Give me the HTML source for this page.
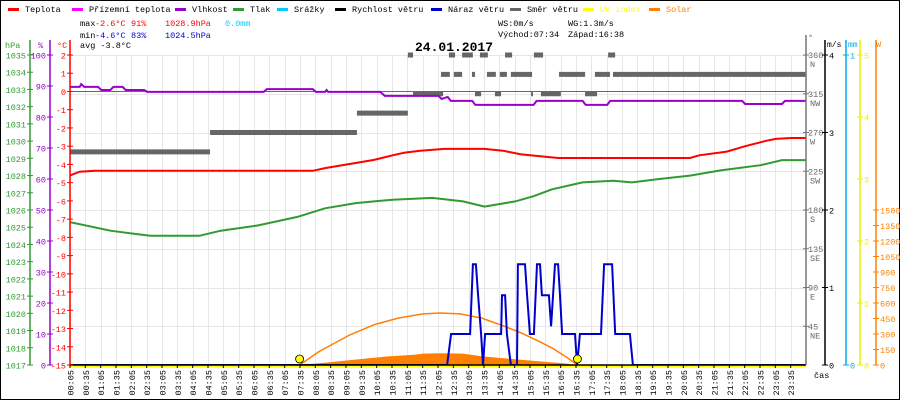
<!DOCTYPE html>
<html><head><meta charset="utf-8"><style>
html,body{margin:0;padding:0;background:#fff}
svg{display:block;font-family:"Liberation Mono",monospace}
</style></head><body>
<svg id="c" width="900" height="400" viewBox="0 0 900 400"></svg>
<script>
// ---- data ----
const tempTimes=[0.08,0.4,0.9,4,8,8.4,9.3,10,10.6,11,11.5,12.3,13.6,14.2,14.8,16,18,20.3,20.6,21.5,22.1,22.8,23.1,23.6,24.08];
const tempValues=[-4.6,-4.4,-4.35,-4.35,-4.35,-4.2,-3.95,-3.75,-3.5,-3.35,-3.25,-3.15,-3.15,-3.25,-3.45,-3.65,-3.65,-3.65,-3.5,-3.3,-3.0,-2.7,-2.6,-2.55,-2.55];
const apparentTimes=[0.08,24.08];
const apparentValues=[0,0];
const humTimes=[0.08,0.4,0.45,0.55,1.0,1.1,1.4,1.5,1.8,1.9,2.5,2.6,6.4,6.5,8.0,8.1,8.4,8.45,8.5,8.6,10.2,10.35,11.2,12.1,12.2,12.4,12.5,13.2,13.3,15.2,15.3,16.8,16.9,17.6,17.7,22.0,22.1,23.3,23.4,24.08];
const humValues=[89.7,89.7,90.6,89.7,89.7,88.7,88.7,89.7,89.7,88.7,88.7,88.1,88.1,89,89,88.1,88.1,88.7,88.1,88.1,88.1,86.8,86.8,86.8,85.8,86.5,85.2,85.2,83.9,83.9,85.2,85.2,83.9,83.9,85.2,85.2,84.2,84.2,85.2,85.2];
const presTimes=[0.08,1.4,2.7,4.3,5.0,6.2,7.5,8.4,9.4,10.6,11.9,12.9,13.6,14.6,15.2,15.8,16.8,17.8,18.4,19.3,20.3,21.3,22.6,23.3,24.08];
const presValues=[1025.3,1024.8,1024.5,1024.5,1024.8,1025.1,1025.6,1026.1,1026.4,1026.6,1026.7,1026.5,1026.2,1026.5,1026.8,1027.2,1027.6,1027.7,1027.6,1027.8,1028.0,1028.3,1028.6,1028.9,1028.9];
const gustTimes=[0.08,12.38,12.51,13.13,13.22,13.32,13.39,13.49,13.55,13.62,14.14,14.17,14.27,14.33,14.46,14.66,14.69,14.92,14.99,15.08,15.21,15.31,15.41,15.47,15.70,15.77,15.90,16.00,16.06,16.13,16.55,16.62,16.71,17.40,17.50,17.76,17.86,18.34,18.44,24.08];
const gustValues=[0,0,0.4,0.4,1.3,1.3,0.9,0.4,0,0.4,0.4,0.9,0.9,0.4,0,0,1.3,1.3,0.9,0.4,0.4,1.3,1.3,0.9,0.9,0.5,1.3,1.3,0.9,0.4,0.4,0,0.4,0.4,1.3,1.3,0.4,0.4,0,0];
const dirStart=[0.08,4.65,9.44,11.27,13.29,13.94,15.12,15.44,16.88,11.10,12.44,12.87,13.45,14.27,15.21,17.63,12.18,12.60,13.19,13.68,14.10,14.46,16.03,17.20,17.79];
const dirEnd=[4.65,9.44,11.10,12.25,13.49,14.14,15.18,16.09,17.27,11.27,12.64,13.22,13.71,14.50,15.51,17.86,12.47,12.87,13.29,13.97,14.33,15.15,16.88,17.69,24.08];
const dirValue=[247.5,270,292.5,315,315,315,315,315,315,360,360,360,360,360,360,360,337.5,337.5,337.5,337.5,337.5,337.5,337.5,337.5,337.5];
const solarTheoTimes=[7.57,8.2,9.2,10.0,10.8,11.6,12.15,12.8,13.5,14.2,14.8,15.3,15.8,16.3,16.63];
const solarTheoValues=[0,130,290,390,455,495,503,495,455,380,310,240,165,70,0];
const solarTimes=[7.57,8.5,9.5,10.5,11.3,11.6,12.2,12.9,13.5,14.6,15.6,16.2,16.63];
const solarValues=[0,25,55,85,100,110,113,110,85,55,30,15,0];
const sunTimes=[7.57,16.63];
const timeLabels=[];for(let h=0;h<24;h++){timeLabels.push(String(h).padStart(2,'0')+':05');timeLabels.push(String(h).padStart(2,'0')+':35');}

// ---- scales ----
const X0=70,X1=806,YT=55,YB=365;
const xs=h=>X0+(h-5/60)*(X1-X0)/24;
const yT=v=>YT+(2-v)*(YB-YT)/17;
const yH=v=>YB-v*(YB-YT)/100;
const yP=v=>YB-(v-1017)*(YB-YT)/18;
const yW=v=>YB-v*(YB-YT)/4;
const yD=v=>YB-v*(YB-YT)/360;
const yS=v=>YB-v*(210-YB)/-1500;

const svg=document.getElementById('c');const NS='http://www.w3.org/2000/svg';
function mk(tag,at,parent){const e=document.createElementNS(NS,tag);for(const k in at)e.setAttribute(k,at[k]);(parent||svg).appendChild(e);return e;}
function txt(x,y,s,fill,anchor,size,weight){const e=mk('text',{x:x,y:y,fill:fill||'#000','font-size':size||8.5,'text-anchor':anchor||'start'});if(weight)e.setAttribute('font-weight',weight);e.textContent=s;return e;}

// border
let b=mk('rect',{x:0.5,y:0.5,width:899,height:399,fill:'none',stroke:'#000'});



// grid
const grid=mk('g',{stroke:'#e6e6e6','stroke-width':1});


timeLabels.forEach((l,i)=>{const x=Math.round(xs(i*0.5+5/60))+0.5;mk('line',{x1:x,y1:YT,x2:x,y2:YB},grid);});
for(let d=45;d<=360;d+=45){const y=Math.round(yD(d))+0.5;mk('line',{x1:X0,y1:y,x2:X1,y2:y},grid);}

function poly(times,vals,ys,color,w,name){const p=mk('polyline',{points:times.map((t,i)=>xs(t).toFixed(1)+','+ys(vals[i]).toFixed(1)).join(' '),fill:'none',stroke:color,'stroke-width':w});return p;}

// solar fill
let sp=mk('polygon',{points:solarTimes.map((t,i)=>xs(t).toFixed(1)+','+yS(solarValues[i]).toFixed(1)).join(' '),fill:'#ff8000'});


poly(solarTheoTimes,solarTheoValues,yS,'#ff8000',1.5,'solar-theoretical-line');

// direction bars
const dg=mk('g',{fill:'#666'});


dirValue.forEach((v,i)=>{const r=mk('rect',{x:xs(dirStart[i]),y:yD(v)-2.5,width:Math.max(1,xs(dirEnd[i])-xs(dirStart[i])),height:5},dg);});

poly(presTimes,presValues,yP,'#339933',2,'pressure-line');
poly(tempTimes,tempValues,yT,'#ff0000',2,'temperature-line');
poly(apparentTimes,apparentValues,yT,'#ff00ff',1,'apparent-temperature-line');
poly(humTimes,humValues,yH,'#9900cc',2,'humidity-line');
poly(gustTimes,gustValues,yW,'#0000cc',2,'wind-gust-line');

// baseline
let yl=mk('line',{x1:X0,y1:YB+1.5,x2:X1,y2:YB+1.5,stroke:'#ffff00','stroke-width':2});


mk('line',{x1:X0,y1:YB,x2:X1,y2:YB,stroke:'#000','stroke-width':1.5});
sunTimes.forEach(t=>{const c=mk('circle',{cx:xs(t),cy:YB-6,r:4,fill:'#ffff00',stroke:'#000','stroke-width':0.8});});

// axes
function axis(x,color,ticks,ys,labels,name,dx){const g=mk('g',{});mk('line',{x1:x,y1:YT-15,x2:x,y2:YB,stroke:color,'stroke-width':1.5},g);ticks.forEach((v,i)=>{const y=ys(v);mk('line',{x1:x-3,y1:y,x2:x+3,y2:y,stroke:color},g);const t=txt(dx<0?x-4:x+4,y+3.5,labels[i],color,dx<0?'end':'start');g.appendChild(t);});return g;}
const pt=[],pl=[];for(let p=1017;p<=1035;p++){pt.push(p);pl.push(''+p);}
axis(30,'#339933',pt,yP,pl,'pressure-axis',-1);
const ht=[],hl=[];for(let h=0;h<=100;h+=10){ht.push(h);hl.push(''+h);}
axis(50,'#9900cc',ht,yH,hl,'humidity-axis',-1);
const tt=[],tl=[];for(let t=-15;t<=2;t++){tt.push(t);tl.push(''+t);}
axis(70,'#ff0000',tt,yT,tl,'temperature-axis',-1);
txt(5,48,'hPa','#339933');txt(38,48,'%','#9900cc');txt(57,48,'°C','#ff0000');
// direction axis
const dgA=mk('g',{});
mk('line',{x1:X1,y1:YT-20,x2:X1,y2:YB,stroke:'#777','stroke-width':1.5},dgA);
const dn=['','NE','E','SE','S','SW','W','NW','N'];
for(let i=1;i<=8;i++){const y=yD(i*45);mk('line',{x1:X1-3,y1:y,x2:X1+3,y2:y,stroke:'#777'},dgA);dgA.appendChild(txt(X1+2,y+3,''+i*45,'#666'));dgA.appendChild(txt(X1+4,y+12,dn[i],'#666'));}
txt(808,40,'°','#666');
const wt=[0,1,2,3,4];axis(825,'#000',wt,yW,wt.map(String),'wind-speed-axis',1);txt(827,47,'m/s','#000','start',8);
axis(846,'#00aaee',[0,1],v=>YB-v*(YB-YT),['0','1'],'precip-axis',1);txt(848,47,'mm','#00aaee','start',8);
const ut=[0,1,2,3,4,5];axis(860,'#eeee00',ut,v=>YB-v*(YB-YT)/5,ut.map(String),'uv-axis',1);
const st=[];for(let s=0;s<=1500;s+=150)st.push(s);
const sa=axis(876,'#ff8000',st,yS,st.map(String),'solar-axis',1);sa.firstChild.setAttribute('y1',YT-15);txt(876,47,'W','#ff8000');

// time labels
const tg=mk('g',{});
timeLabels.forEach((l,i)=>{const x=xs(i*0.5+5/60);mk('line',{x1:x,y1:YB,x2:x,y2:YB+3,stroke:'#000'},tg);const t=txt(0,0,l,'#000','end');t.setAttribute('transform','translate('+(x+3.5)+','+(YB+5)+') rotate(-90)');tg.appendChild(t);});
txt(814,378,'čas','#000');

// legend
const leg=[['Teplota','#ff0000',8],['Přízemní teplota','#ff00ff',72],['Vlhkost','#9900cc',175],['Tlak','#339933',233],['Srážky','#00ccff',277],['Rychlost větru','#000',335],['Náraz větru','#0000cc',431],['Směr větru','#666',510],['UV index','#ffff00',583],['Solar','#ff8000',649]];
leg.forEach(e=>{const g=mk('g',{});mk('rect',{x:e[2],y:8,width:11,height:3,fill:e[1]},g);g.appendChild(txt(e[2]+17,12,e[0],e[1]==='#ffff00'||e[1]==='#ff8000'?e[1]:'#000'));});

// stats
txt(80,26,'max','#000');txt(95,26,'-2.6°C','#ff0000');txt(131,26,'91%','#ff0000');txt(165,26,'1028.9hPa','#ff0000');txt(225,26,'0.0mm','#00ccff');
txt(80,38,'min','#000');txt(95,38,'-4.6°C','#0000ff');txt(131,38,'83%','#0000cc');txt(165,38,'1024.5hPa','#0000cc');
txt(80,48,'avg -3.8°C','#000');
txt(498,26,'WS:0m/s','#000');txt(568,26,'WG:1.3m/s','#000');
txt(498,37,'Východ:07:34','#000');txt(568,37,'Západ:16:38','#000');
txt(415,51,'24.01.2017','#000','start',13,'bold');
</script>
</body></html>
